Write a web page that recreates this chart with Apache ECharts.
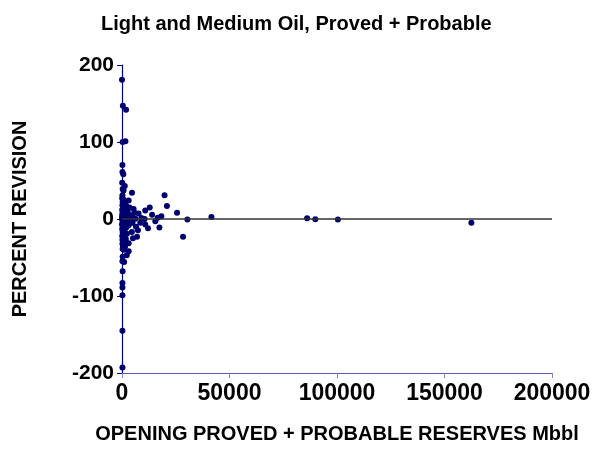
<!DOCTYPE html>
<html>
<head>
<meta charset="utf-8">
<script src="https://cdn.jsdelivr.net/npm/echarts@6/dist/echarts.min.js"></script>
<style>
html,body{margin:0;padding:0;background:#fff;}
#chart{width:594px;height:449px;}
</style>
</head>
<body>
<div id="chart"></div>
<script>
var titleText = 'Light and Medium Oil, Proved + Probable';
var xAxisTitle = 'OPENING PROVED + PROBABLE RESERVES Mbbl';
var yAxisTitle = 'PERCENT REVISION';
var xTicks = [0, 50000, 100000, 150000, 200000];
var yTicks = [-200, -100, 0, 100, 200];

// Opening reserves (Mbbl)
var openingReserves = [
  0, 400, 1900, 300, 1600, 200, 200, 600, 100, 300, 4650, 200, 19800, 20900, 12900, 10800,
  25600, 30400, 41600, 86100, 89900, 100400, 162500, 28400, 17400, 18300, 16600, 15500, 14000,
  7700, 10500, 12100, 10800, 7400, 7000, 5100, 3100, 3100, 5400, 3100,
  200, 300, 800, 300, 200, 1000, 300, 200, 200, 200, 200, 200,
  100, 800, 300, 1200, 200, 2000, 500, 1500, 100, 900, 2600, 300, 1800, 600, 2600, 100, 3900,
  1200, 400, 2200, 4900, 0, 800, 1500, 6200, 300, 2900, 100, 1100, 4200, 600, 1900, 300, 4900,
  1300, 0, 3100, 700, 2200, 400, 1600, 100, 900, 4600, 300, 2300, 1200, 100, 600, 1800, 200,
  900, 400, 1400, 9000, 8500, 6500, 3500, 5800, 700, 1300, 2200
];
// Percent revision
var percentRevision = [
  181, 147, 142, 100, 101, 70, 61, 58, 47, 39, 34, 31, 31, 17, 15, 11,
  8, -0.5, 2.5, 1, -0.4, -0.8, -5, -23, -11, 3.5, 1.7, -3, 5.5,
  7, 0, -12, -7, -14.5, -23, -25, -31.5, -42, 13, 24,
  -32, -39, -40, -49, -55, -56, -68, -83, -89, -99, -145, -193,
  27, 25, 22, 20, 18, 17, 15, 13, 12, 11, 10, 9, 8, 7, 7, 6, 5,
  5, 4, 3, 2.5, 2, 1, 0.5, 0.4, 0, -1, -1, -2, -2, -3, -4, -5, -5,
  -6, -7, -8, -9, -10, -11, -12, -13, -15, -17, -17, -19, -20, -22, -24, -26, -27,
  -29, -35, -36, 1.3, -5, -10, 15, 8, 37, 43, -47
];

var points = openingReserves.map(function (x, i) { return [x, percentRevision[i]]; });

var font = '"Liberation Sans", Arial, sans-serif';
var chart = echarts.init(document.getElementById('chart'), null, {renderer: 'canvas'});
chart.setOption({
  animation: false,
  backgroundColor: '#ffffff',
  title: {
    text: titleText,
    left: 96,
    top: 9,
    textStyle: {fontFamily: font, fontWeight: 'bold', fontSize: 20, color: '#000'}
  },
  grid: {left: 122, right: 42, top: 65, bottom: 71, containLabel: false},
  xAxis: {
    type: 'value',
    min: xTicks[0],
    max: xTicks[xTicks.length - 1],
    interval: xTicks[1] - xTicks[0],
    name: xAxisTitle,
    nameLocation: 'middle',
    nameGap: 51,
    nameTextStyle: {fontFamily: font, fontWeight: 'bold', fontSize: 20, color: '#000'},
    axisLine: {onZero: false, lineStyle: {color: '#5a5ab4', width: 1}},
    axisTick: {show: true, length: 5, lineStyle: {color: '#8080cc'}},
    axisLabel: {
      margin: 9, fontFamily: font, fontWeight: 'bold', fontSize: 23, color: '#000',
      formatter: function (v) { return String(v); }
    },
    splitLine: {show: false}
  },
  yAxis: {
    type: 'value',
    min: yTicks[0],
    max: yTicks[yTicks.length - 1],
    interval: yTicks[1] - yTicks[0],
    name: yAxisTitle,
    nameLocation: 'middle',
    nameGap: 92,
    nameRotate: 90,
    nameTextStyle: {fontFamily: font, fontWeight: 'bold', fontSize: 20, color: '#000'},
    axisLine: {onZero: false, lineStyle: {color: '#00008b', width: 1.2}},
    axisTick: {show: true, length: 5, lineStyle: {color: '#00008b'}},
    axisLabel: {
      margin: 8, fontFamily: font, fontWeight: 'bold', fontSize: 21, color: '#000',
      formatter: function (v) { return String(v); }
    },
    splitLine: {show: false}
  },
  series: [{
    type: 'scatter',
    data: points,
    symbol: 'circle',
    symbolSize: 6,
    itemStyle: {color: '#000070', opacity: 1},
    markLine: {
      silent: true,
      symbol: ['none', 'none'],
      label: {show: false},
      lineStyle: {color: '#333333', width: 1.5, type: 'solid'},
      data: [{yAxis: 0}]
    },
    z: 3
  }]
});
</script>
</body>
</html>
